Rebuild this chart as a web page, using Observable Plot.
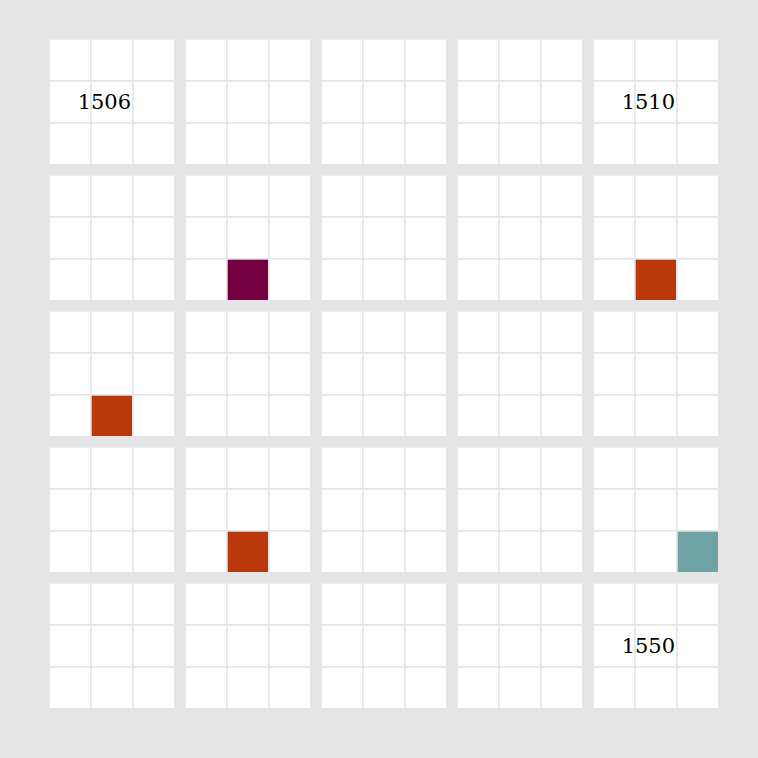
<!DOCTYPE html>
<html>
<head>
<meta charset="utf-8">
<script src="https://cdn.jsdelivr.net/npm/d3@7"></script>
<script src="https://cdn.jsdelivr.net/npm/@observablehq/plot@0.6"></script>
<style>
  html, body { margin: 0; padding: 0; background: #e5e5e5; }
  #chart svg { display: block; background: #e5e5e5; }
</style>
</head>
<body>
<div id="chart"></div>
<script>
// Grid structure: 5 x 5 blocks, each 3 x 3 cells
const blockCols = [0, 1, 2, 3, 4];
const blockRows = [0, 1, 2, 3, 4];
const cellCols = [0, 1, 2];
const cellRows = [0, 1, 2];
const startYear = 1506;

// Highlighted cells
const hiYears = [1517, 1520, 1526, 1537, 1540];
const hiCellCol = [1, 1, 1, 1, 2];
const hiCellRow = [2, 2, 2, 2, 2];
const hiCategory = ["A", "B", "B", "B", "C"];
const categories = ["A", "B", "C"];
const catColors = ["#730040", "#b9380b", "#6fa3a5"];

// Year labels
const labelYears = [1506, 1510, 1550];

const blockOf = (year) => ({
  bc: (year - startYear) % 10,
  br: Math.floor((year - startYear) / 10)
});

const bgCells = [];
for (const br of blockRows) for (const bc of blockCols)
  for (const cr of cellRows) for (const cc of cellCols)
    bgCells.push({bc, br, cc, cr});

const hiCells = hiYears.map((y, i) => ({
  ...blockOf(y), cc: hiCellCol[i], cr: hiCellRow[i], cat: hiCategory[i]
}));

const labels = labelYears.map(y => ({...blockOf(y), text: String(y)}));

const pad = 10.3 / 136;
const plot = Plot.plot({
  width: 758,
  height: 758,
  marginLeft: 49.15,
  marginRight: 39.15,
  marginTop: 39.15,
  marginBottom: 49.15,
  style: {background: "#e5e5e5"},
  fx: {domain: blockCols, paddingInner: pad, paddingOuter: 0, axis: null},
  fy: {domain: blockRows, paddingInner: pad, paddingOuter: 0, axis: null},
  x: {domain: cellCols, padding: 0, axis: null},
  y: {domain: cellRows, padding: 0, axis: null},
  color: {domain: categories, range: catColors},
  marks: [
    Plot.cell(bgCells, {fx: "bc", fy: "br", x: "cc", y: "cr", fill: "white", inset: 0.85}),
    Plot.cell(hiCells, {fx: "bc", fy: "br", x: "cc", y: "cr", fill: "cat", inset: 0.85}),
    Plot.text(labels, {
      fx: "bc", fy: "br", x: () => 1, y: () => 1, text: "text",
      dx: -8, fontSize: 21, fill: "black",
      fontFamily: "DejaVu Serif", textAnchor: "middle"
    })
  ]
});
document.getElementById("chart").append(plot);
</script>
</body>
</html>
